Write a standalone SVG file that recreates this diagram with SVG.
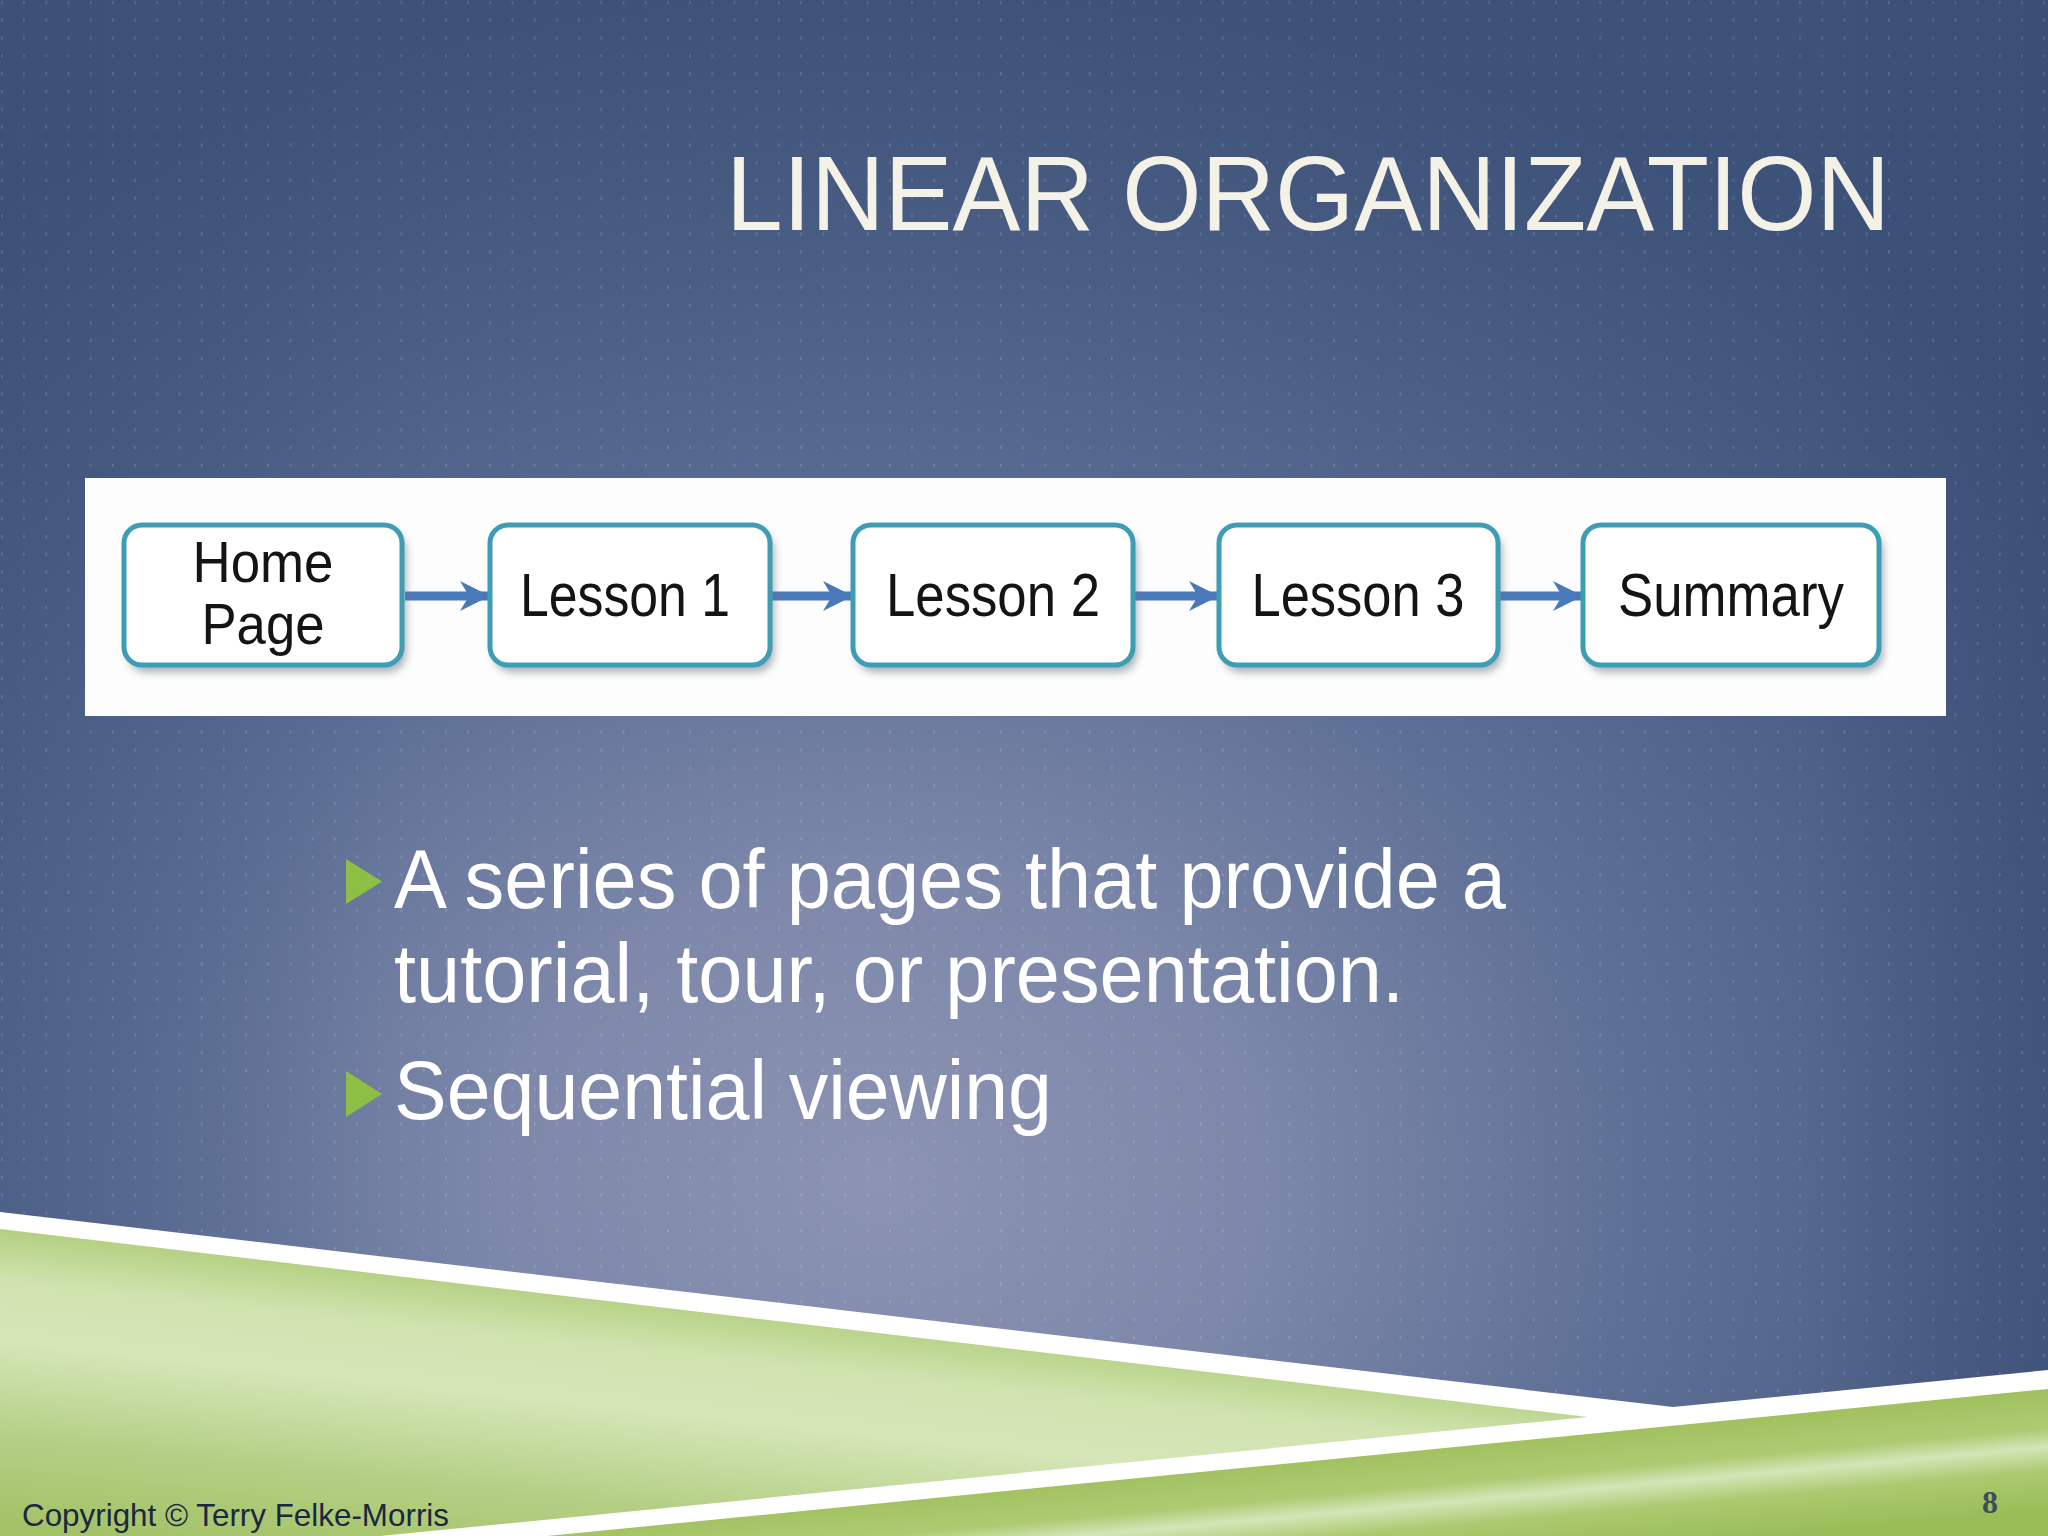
<svg xmlns="http://www.w3.org/2000/svg" width="2048" height="1536" viewBox="0 0 2048 1536">
<defs>
<style>
.lbl{font-family:"Liberation Sans",Arial,sans-serif;font-size:62px;fill:#141414;text-anchor:middle}
.lbl2{font-family:"Liberation Sans",Arial,sans-serif;font-size:58px;fill:#141414;text-anchor:middle}
.bul{font-family:"Liberation Sans",Arial,sans-serif;font-size:84px;fill:#ffffff}
.box{fill:#ffffff;stroke:#3d9db4;stroke-width:5}
.shadow{fill:#6b7a86;opacity:0.6}
.conn{stroke:#4a79b9;stroke-width:9;fill:none}
</style>
<radialGradient id="bgGlow" cx="880" cy="1180" r="1500" gradientUnits="userSpaceOnUse" gradientTransform="translate(880 1180) scale(1 0.8) translate(-880 -1180)">
<stop offset="0" stop-color="#8c93b3"/>
<stop offset="0.25" stop-color="#7d88aa"/>
<stop offset="0.5" stop-color="#5f7096"/>
<stop offset="0.75" stop-color="#4b5e85"/>
<stop offset="1" stop-color="#3d5278"/>
</radialGradient>
<linearGradient id="edgeR" x1="0" y1="0" x2="1" y2="0">
<stop offset="0.88" stop-color="#3b4a72" stop-opacity="0"/>
<stop offset="1" stop-color="#3b4a72" stop-opacity="0.45"/>
</linearGradient>
<linearGradient id="edgeL" x1="0" y1="0" x2="1" y2="0">
<stop offset="0" stop-color="#3b4f76" stop-opacity="0.35"/>
<stop offset="0.2" stop-color="#3b4f76" stop-opacity="0"/>
</linearGradient>
<pattern id="dots" x="0" y="0" width="22.2" height="17.8" patternUnits="userSpaceOnUse">
<rect x="1" y="1" width="1.6" height="3" fill="#ffffff" opacity="0.16"/>
</pattern>
<linearGradient id="greenL" x1="300" y1="1560" x2="332" y2="1262" gradientUnits="userSpaceOnUse">
<stop offset="0" stop-color="#a3c266"/>
<stop offset="0.3" stop-color="#b4cf84"/>
<stop offset="0.62" stop-color="#d5e6b8"/>
<stop offset="0.82" stop-color="#d0e3af"/>
<stop offset="1" stop-color="#b2cf80"/>
</linearGradient>
<linearGradient id="greenR" x1="1720" y1="1540" x2="1708" y2="1410" gradientUnits="userSpaceOnUse">
<stop offset="0" stop-color="#9bbd58"/>
<stop offset="0.3" stop-color="#acca70"/>
<stop offset="0.48" stop-color="#d3e5b7"/>
<stop offset="0.62" stop-color="#aecb73"/>
<stop offset="1" stop-color="#9dbe5a"/>
</linearGradient>
<filter id="blur" x="-10%" y="-10%" width="120%" height="130%">
<feGaussianBlur stdDeviation="4"/>
</filter>
<marker id="arrow" viewBox="0 0 34 34" refX="32" refY="17" markerWidth="34" markerHeight="34" markerUnits="userSpaceOnUse" orient="auto">
<path d="M3,2 L33,17 L3,32 L12,17 Z" fill="#4a79b9"/>
</marker>
</defs>

<!-- background -->
<rect x="0" y="0" width="2048" height="1536" fill="url(#bgGlow)"/>
<rect x="0" y="0" width="2048" height="1536" fill="url(#edgeR)"/>
<rect x="0" y="0" width="2048" height="1536" fill="url(#edgeL)"/>
<rect x="0" y="0" width="2048" height="1536" fill="url(#dots)"/>

<!-- bottom decoration -->
<g id="bottom-band">
<polygon points="0,1212 1673,1407 2048,1370 2048,1536 0,1536" fill="#ffffff"/>
<polygon points="0,1229 1588,1417 380,1536 0,1536" fill="url(#greenL)"/>
<polygon points="547,1536 2048,1389 2048,1536" fill="url(#greenR)"/>
</g>

<!-- title -->
<text id="title" x="726" y="230" font-family="'Liberation Sans',Arial,sans-serif" font-size="106" fill="#f4f1e6" textLength="1164" lengthAdjust="spacingAndGlyphs">LINEAR ORGANIZATION</text>

<!-- diagram panel -->
<rect id="panel" x="85" y="478" width="1861" height="238" fill="#fdfdfd"/>

<g id="connectors">
<line class="conn" x1="405" y1="596" x2="489" y2="596" marker-end="url(#arrow)"/>
<line class="conn" x1="771" y1="596" x2="852" y2="596" marker-end="url(#arrow)"/>
<line class="conn" x1="1134" y1="596" x2="1218" y2="596" marker-end="url(#arrow)"/>
<line class="conn" x1="1499" y1="596" x2="1582" y2="596" marker-end="url(#arrow)"/>
</g>

<g id="node-home">
<rect class="shadow" x="128" y="532" width="278" height="140" rx="18" filter="url(#blur)"/>
<rect class="box" x="124" y="525" width="278" height="140" rx="18"/>
<text class="lbl2" x="263" y="582" textLength="141" lengthAdjust="spacingAndGlyphs">Home</text>
<text class="lbl2" x="263" y="644" textLength="123" lengthAdjust="spacingAndGlyphs">Page</text>
</g>
<g id="node-lesson1">
<rect class="shadow" x="494" y="532" width="280" height="140" rx="18" filter="url(#blur)"/>
<rect class="box" x="490" y="525" width="280" height="140" rx="18"/>
<text class="lbl" x="625" y="616" textLength="210" lengthAdjust="spacingAndGlyphs">Lesson 1</text>
</g>
<g id="node-lesson2">
<rect class="shadow" x="857" y="532" width="280" height="140" rx="18" filter="url(#blur)"/>
<rect class="box" x="853" y="525" width="280" height="140" rx="18"/>
<text class="lbl" x="993" y="616" textLength="214" lengthAdjust="spacingAndGlyphs">Lesson 2</text>
</g>
<g id="node-lesson3">
<rect class="shadow" x="1223" y="532" width="279" height="140" rx="18" filter="url(#blur)"/>
<rect class="box" x="1219" y="525" width="279" height="140" rx="18"/>
<text class="lbl" x="1358" y="616" textLength="213" lengthAdjust="spacingAndGlyphs">Lesson 3</text>
</g>
<g id="node-summary">
<rect class="shadow" x="1587" y="532" width="296" height="140" rx="18" filter="url(#blur)"/>
<rect class="box" x="1583" y="525" width="296" height="140" rx="18"/>
<text class="lbl" x="1731" y="616" textLength="226" lengthAdjust="spacingAndGlyphs">Summary</text>
</g>

<!-- bullets -->
<g id="bullets">
<polygon points="346,859 382,881.5 346,904" fill="#8dbf45"/>
<text class="bul" x="394" y="908" textLength="1112" lengthAdjust="spacingAndGlyphs">A series of pages that provide a</text>
<text class="bul" x="394" y="1002" textLength="1010" lengthAdjust="spacingAndGlyphs">tutorial, tour, or presentation.</text>
<polygon points="346,1071 382,1094 346,1117" fill="#8dbf45"/>
<text class="bul" x="394" y="1119" textLength="658" lengthAdjust="spacingAndGlyphs">Sequential viewing</text>
</g>

<!-- footer -->
<text id="copyright" x="22" y="1526" font-family="'Liberation Sans',Arial,sans-serif" font-size="32" fill="#1c2740" textLength="427" lengthAdjust="spacingAndGlyphs">Copyright © Terry Felke-Morris</text>
<text id="page-number" x="1990" y="1513" font-family="'Liberation Serif','Times New Roman',serif" font-size="32" font-weight="bold" fill="#414d5a" text-anchor="middle">8</text>
</svg>
